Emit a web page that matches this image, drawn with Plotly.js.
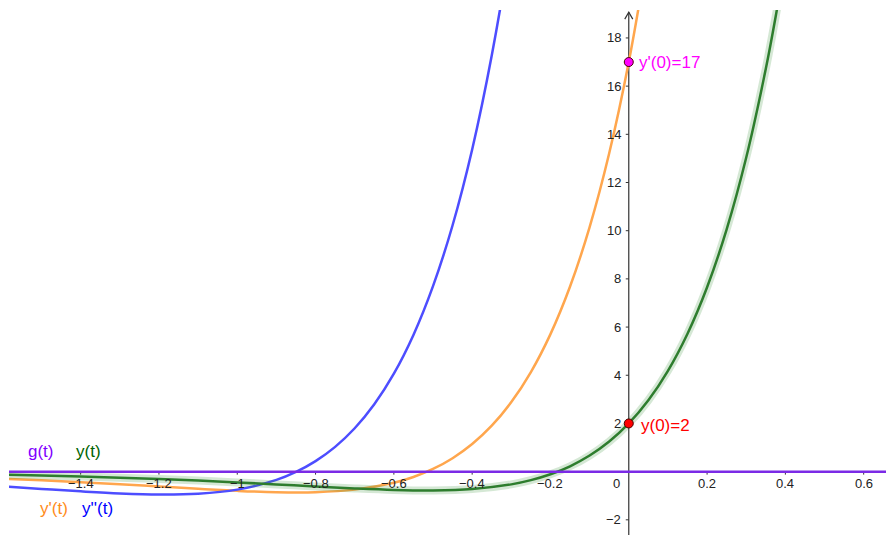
<!DOCTYPE html>
<html>
<head>
<meta charset="utf-8">
<script src="https://cdn.plot.ly/plotly-3.0.1.min.js"></script>
<style>html,body{margin:0;padding:0;background:#fff;}#chart{width:886px;height:535px;}</style>
</head>
<body>
<div id="chart"></div>
<script>
const tY   = [-1.6,-1.5,-1.4,-1.3,-1.2,-1.1,-1.0,-0.9,-0.8,-0.7,-0.6,-0.5,-0.4,-0.3,-0.25,-0.2,-0.15,-0.1,-0.05,0,0.05,0.1,0.15,0.2,0.25,0.3,0.35,0.375,0.4];
const yVals = [-0.128,-0.161,-0.201,-0.249,-0.306,-0.372,-0.448,-0.531,-0.617,-0.698,-0.760,-0.781,-0.723,-0.529,-0.354,-0.110,0.223,0.667,1.248,2,2.963,4.185,5.724,7.653,10.056,13.036,16.717,18.87,21.249];
// y'(t)
const tYp   = [-1.6,-1.5,-1.4,-1.3,-1.2,-1.1,-1.0,-0.9,-0.8,-0.7,-0.6,-0.55,-0.5,-0.45,-0.4,-0.35,-0.3,-0.25,-0.2,-0.15,-0.1,-0.05,0,0.05];
const ypVals = [-0.295,-0.361,-0.438,-0.524,-0.617,-0.712,-0.797,-0.854,-0.853,-0.747,-0.463,-0.221,0.112,0.557,1.145,1.907,2.887,4.133,5.708,7.683,10.149,13.212,17,21.668];
// y''(t)
const tYpp   = [-1.6,-1.5,-1.4,-1.3,-1.2,-1.1,-1.0,-0.9,-0.85,-0.8,-0.75,-0.7,-0.65,-0.6,-0.55,-0.5,-0.45,-0.4,-0.35,-0.3,-0.25];
const yppVals = [-0.612,-0.717,-0.819,-0.905,-0.951,-0.918,-0.747,-0.343,-0.012,0.435,1.028,1.800,2.796,4.066,5.675,7.698,10.227,13.373,17.270,22.077,27.99];
// g(t)
const tG = [-1.7, 0.8];
const gVals = [0, 0];
// initial-value points
const ptT = [0, 0];
const ptVals = [17, 2];
const ptLabels = ["y'(0)=17", "y(0)=2"];
// tick labels
const xTicks = [-1.4,-1.2,-1,-0.8,-0.6,-0.4,-0.2,0.2,0.4,0.6];
const xTickText = ["\u22121.4","\u22121.2","\u22121","\u22120.8","\u22120.6","\u22120.4","\u22120.2","0.2","0.4","0.6"];
const yTicks = [-2,2,4,6,8,10,12,14,16,18];
const yTickText = ["\u22122","2","4","6","8","10","12","14","16","18"];

const FONT = "Liberation Sans, Arial, sans-serif";
const AX = '#333333';

const traces = [
  {x:tYp, y:ypVals, mode:'lines', line:{color:'#ffa64d', width:2.5, shape:'spline'}, hoverinfo:'skip'},
  {x:tYpp, y:yppVals, mode:'lines', line:{color:'#4d4dff', width:2.5, shape:'spline'}, hoverinfo:'skip'},
  {x:tY, y:yVals, mode:'lines', line:{color:'rgba(46,139,46,0.2)', width:8, shape:'spline'}, hoverinfo:'skip'},
  {x:tY, y:yVals, mode:'lines', line:{color:'#2e7d2e', width:2.5, shape:'spline'}, hoverinfo:'skip'},
  {x:tG, y:gVals, mode:'lines', line:{color:'#7b2ae6', width:2.5}, hoverinfo:'skip'},
  {x:ptT, y:ptVals, mode:'markers', marker:{size:9, color:['#ff00ff','#ff0000'], line:{color:'#4a0000', width:1}}, hoverinfo:'skip'}
];

const shapes = [];
// y axis line
shapes.push({type:'line', xref:'x', yref:'paper', x0:0, x1:0, y0:0, y1:0.996, line:{color:AX, width:1.2}, layer:'below'});
// arrow chevron at top
shapes.push({type:'path', xref:'x', yref:'paper', xsizemode:'pixel', ysizemode:'pixel', xanchor:0, yanchor:0.996, path:'M -4 -7 L 0 0 L 4 -7', line:{color:AX, width:1.2}, layer:'below'});
yTicks.forEach(v => shapes.push({type:'line', xref:'x', yref:'y', xsizemode:'pixel', xanchor:0, x0:-3, x1:0, y0:v, y1:v, line:{color:AX, width:1}, layer:'below'}));
xTicks.forEach(v => shapes.push({type:'line', xref:'x', yref:'y', ysizemode:'pixel', yanchor:0, y0:0, y1:-3, x0:v, x1:v, line:{color:AX, width:1}, layer:'below'}));

const annotations = [];
xTicks.forEach((v,i) => annotations.push({x:v, y:0, xref:'x', yref:'y', text:xTickText[i], showarrow:false, xanchor:'center', yanchor:'middle', yshift:-12, font:{family:FONT, size:13, color:'#222'}}));
annotations.push({x:0, y:0, xref:'x', yref:'y', text:'0', showarrow:false, xanchor:'right', yanchor:'middle', xshift:-7, yshift:-12, font:{family:FONT, size:13, color:'#222'}});
yTicks.forEach((v,i) => annotations.push({x:0, y:v, xref:'x', yref:'y', text:yTickText[i], showarrow:false, xanchor:'right', yanchor:'middle', xshift:-6, font:{family:FONT, size:13, color:'#222'}}));
const ptColors = ['#ff00ff','#ff0000'];
ptLabels.forEach((s,i) => annotations.push({x:ptT[i], y:ptVals[i], xref:'x', yref:'y', text:s, showarrow:false, xanchor:'left', yanchor:'middle', xshift:i===0?8:10, yshift:i===0?0:-2, font:{family:FONT, size:17, color:ptColors[i]}}));
// curve name labels
const nameLbl = [
  {t:'g(t)', c:'#7f00ff', x:-1.54, y:0.82},
  {t:'y(t)', c:'#006400', x:-1.417, y:0.82},
  {t:"y'(t)", c:'#ff8c1a', x:-1.51, y:-1.55},
  {t:"y''(t)", c:'#0000ff', x:-1.402, y:-1.55}
];
nameLbl.forEach(o => annotations.push({x:o.x, y:o.y, xref:'x', yref:'y', text:o.t, showarrow:false, xanchor:'left', yanchor:'middle', font:{family:FONT, size:17, color:o.c}}));

const layout = {
  width:886, height:535,
  margin:{l:9, r:0, t:10, b:0, pad:0},
  paper_bgcolor:'#fff', plot_bgcolor:'#fff',
  showlegend:false,
  xaxis:{range:[-1.583, 0.657], showgrid:false, zeroline:false, showline:false, showticklabels:false, ticks:''},
  yaxis:{range:[-2.63, 19.16], showgrid:false, zeroline:false, showline:false, showticklabels:false, ticks:''},
  shapes:shapes,
  annotations:annotations
};

Plotly.newPlot('chart', traces, layout, {staticPlot:true, displayModeBar:false});
</script>
</body>
</html>
